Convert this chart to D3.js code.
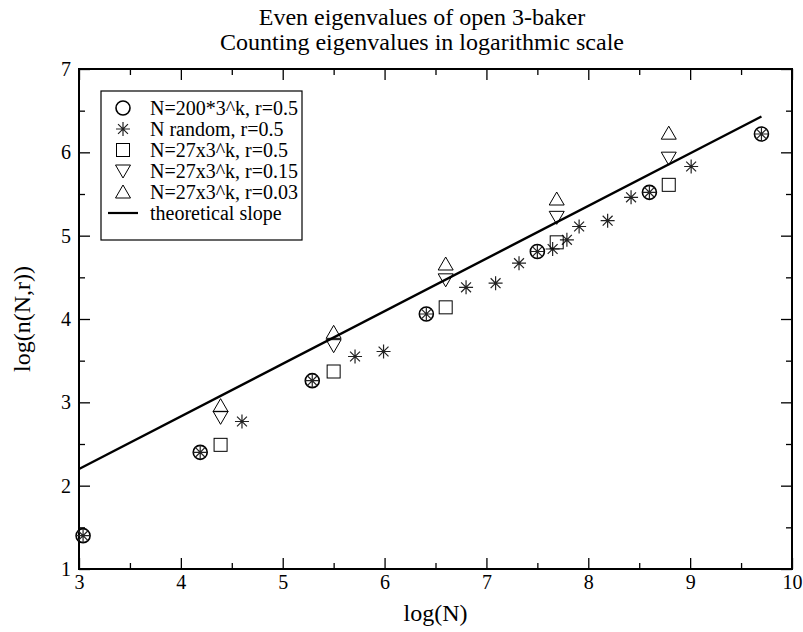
<!DOCTYPE html>
<html>
<head>
<meta charset="utf-8">
<script src="https://cdn.jsdelivr.net/npm/d3@7"></script>
<style>
  html, body { margin: 0; padding: 0; background: #fff; }
  svg { display: block; font-family: "Liberation Serif", "DejaVu Serif", serif; }
</style>
</head>
<body>
<svg id="chart" width="803" height="632"></svg>
<script>
// ---- data ----
const titleLines = ["Even eigenvalues of open 3-baker", "Counting eigenvalues in logarithmic scale"];
const xLabel = "log(N)";
const yLabel = "log(n(N,r))";
const xTicks = [3, 4, 5, 6, 7, 8, 9, 10];
const yTicks = [1, 2, 3, 4, 5, 6, 7];

const circleX = [3.04, 4.19, 5.29, 6.41, 7.50, 8.60, 9.70];
const circleY = [1.40, 2.40, 3.26, 4.06, 4.81, 5.52, 6.22];

const starX = [3.04, 4.19, 4.60, 5.29, 5.71, 5.99, 6.41, 6.80, 7.09, 7.32, 7.50, 7.65, 7.79, 7.91, 8.19, 8.42, 8.60, 9.01, 9.70];
const starY = [1.40, 2.40, 2.77, 3.26, 3.55, 3.61, 4.06, 4.38, 4.43, 4.67, 4.81, 4.84, 4.95, 5.11, 5.18, 5.46, 5.52, 5.83, 6.22];

const kX = [4.39, 5.50, 6.60, 7.69, 8.79];
const squareY = [2.49, 3.37, 4.14, 4.92, 5.61];
const downTriY = [2.82, 3.68, 4.47, 5.22, 5.93];
const upTriY = [2.96, 3.84, 4.66, 5.44, 6.23];

const slopeX = [3.0, 9.70];
const slopeY = [2.20, 6.43];

const legendLabels = ["N=200*3^k, r=0.5", "N random, r=0.5", "N=27x3^k, r=0.5", "N=27x3^k, r=0.15", "N=27x3^k, r=0.03", "theoretical slope"];
const legendKinds = ["circle", "star", "square", "down", "up", "line"];

// ---- drawing ----
const svg = d3.select("#chart");
const L = 79, R = 792, T = 69, B = 569;
const x = d3.scaleLinear().domain([3, 10]).range([L, R]);
const y = d3.scaleLinear().domain([1, 7]).range([B, T]);

// title
svg.append("g").selectAll("text").data(titleLines).join("text")
  .attr("x", 422).attr("y", (d, i) => 25 + i * 25)
  .attr("text-anchor", "middle").attr("font-size", 24).text(d => d);

// axes with inward ticks
const major = 11, minor = 6;
const xMinor = d3.range(3.5, 10, 1);
const yMinor = d3.range(1.5, 7, 1);
function styleAxis(g) {
  g.select(".domain").remove();
  g.selectAll("line").attr("stroke", "#000").attr("stroke-width", 1.3);
  g.selectAll("text").attr("font-size", 20).attr("fill", "#000")
   .attr("font-family", "Liberation Serif, serif");
}
svg.append("g").attr("transform", `translate(0,${B})`)
  .call(d3.axisBottom(x).tickValues(xTicks).tickFormat(d3.format("d")).tickSize(-major).tickPadding(6))
  .call(styleAxis);
svg.append("g").attr("transform", `translate(0,${B})`)
  .call(d3.axisBottom(x).tickValues(xMinor).tickFormat("").tickSize(-minor)).call(styleAxis);
svg.append("g").attr("transform", `translate(0,${T})`)
  .call(d3.axisTop(x).tickValues(xTicks).tickFormat("").tickSize(-major)).call(styleAxis);
svg.append("g").attr("transform", `translate(0,${T})`)
  .call(d3.axisTop(x).tickValues(xMinor).tickFormat("").tickSize(-minor)).call(styleAxis);
svg.append("g").attr("transform", `translate(${L},0)`)
  .call(d3.axisLeft(y).tickValues(yTicks).tickFormat(d3.format("d")).tickSize(-major).tickPadding(8))
  .call(styleAxis);
svg.append("g").attr("transform", `translate(${L},0)`)
  .call(d3.axisLeft(y).tickValues(yMinor).tickFormat("").tickSize(-minor)).call(styleAxis);
svg.append("g").attr("transform", `translate(${R},0)`)
  .call(d3.axisRight(y).tickValues(yTicks).tickFormat("").tickSize(-major)).call(styleAxis);
svg.append("g").attr("transform", `translate(${R},0)`)
  .call(d3.axisRight(y).tickValues(yMinor).tickFormat("").tickSize(-minor)).call(styleAxis);

// frame
svg.append("rect").attr("x", L).attr("y", T).attr("width", R - L).attr("height", B - T)
  .attr("fill", "none").attr("stroke", "#000").attr("stroke-width", 2);

// axis labels
svg.append("text").attr("x", (L + R) / 2).attr("y", 621).attr("text-anchor", "middle")
  .attr("font-size", 24).text(xLabel);
svg.append("text").attr("transform", `translate(30,${(T + B) / 2}) rotate(-90)`)
  .attr("text-anchor", "middle").attr("font-size", 24).text(yLabel);

// marker helpers
function drawMarker(g, kind, cx, cy) {
  if (kind === "circle") {
    g.append("circle").attr("cx", cx).attr("cy", cy).attr("r", 7)
      .attr("fill", "none").attr("stroke", "#000").attr("stroke-width", 1.6);
  } else if (kind === "star") {
    const s = 7, d = s * 0.707;
    const p = `M${cx - s},${cy}L${cx + s},${cy}M${cx},${cy - s}L${cx},${cy + s}` +
              `M${cx - d},${cy - d}L${cx + d},${cy + d}M${cx - d},${cy + d}L${cx + d},${cy - d}`;
    g.append("path").attr("d", p).attr("stroke", "#222").attr("stroke-width", 1.2).attr("fill", "none");
  } else if (kind === "square") {
    g.append("rect").attr("x", cx - 6.5).attr("y", cy - 6.5).attr("width", 13).attr("height", 13)
      .attr("fill", "none").attr("stroke", "#000").attr("stroke-width", 1);
  } else if (kind === "down") {
    g.append("path").attr("d", `M${cx - 7.5},${cy - 6}L${cx + 7.5},${cy - 6}L${cx},${cy + 7}Z`)
      .attr("fill", "none").attr("stroke", "#000").attr("stroke-width", 1);
  } else if (kind === "up") {
    g.append("path").attr("d", `M${cx - 7.5},${cy + 6}L${cx + 7.5},${cy + 6}L${cx},${cy - 7}Z`)
      .attr("fill", "none").attr("stroke", "#000").attr("stroke-width", 1);
  } else if (kind === "line") {
    g.append("line").attr("x1", cx - 15).attr("x2", cx + 15).attr("y1", cy).attr("y2", cy)
      .attr("stroke", "#000").attr("stroke-width", 2.2);
  }
}

const plot = svg.append("g");
// theoretical slope
plot.append("path").datum(slopeX.map((v, i) => [v, slopeY[i]]))
  .attr("d", d3.line().x(d => x(d[0])).y(d => y(d[1])))
  .attr("fill", "none").attr("stroke", "#000").attr("stroke-width", 2.4);

circleX.forEach((v, i) => drawMarker(plot, "circle", x(v), y(circleY[i])));
starX.forEach((v, i) => drawMarker(plot, "star", x(v), y(starY[i])));
kX.forEach((v, i) => drawMarker(plot, "square", x(v), y(squareY[i])));
kX.forEach((v, i) => drawMarker(plot, "down", x(v), y(downTriY[i])));
kX.forEach((v, i) => drawMarker(plot, "up", x(v), y(upTriY[i])));

// legend
const lg = svg.append("g");
lg.append("rect").attr("x", 101).attr("y", 91).attr("width", 201).attr("height", 149)
  .attr("fill", "#fff").attr("stroke", "#000").attr("stroke-width", 1.2);
legendLabels.forEach((lab, i) => {
  const cy = 108 + i * 21;
  drawMarker(lg, legendKinds[i], 123, cy);
  lg.append("text").attr("x", 150).attr("y", cy).attr("dy", "0.35em")
    .attr("font-size", 20).text(lab);
});
</script>
</body>
</html>
